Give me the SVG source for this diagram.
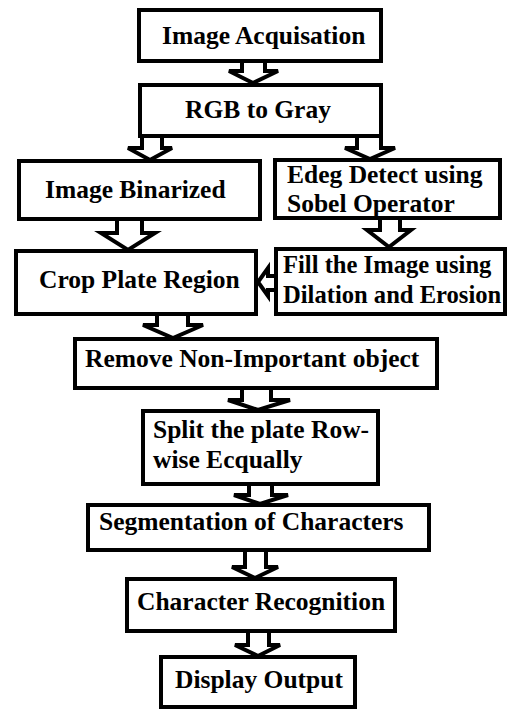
<svg xmlns="http://www.w3.org/2000/svg" width="507" height="709" viewBox="0 0 507 709">
<style>
.box{fill:#fff;stroke:#000;stroke-width:4}
.arr{fill:#fff;stroke:#000;stroke-width:4;stroke-linejoin:miter}
text{font-family:"Liberation Serif","Times New Roman","DejaVu Serif",serif;font-weight:bold;font-size:25.5px;fill:#000}
.sm{font-size:24.6px}
</style>
<rect width="507" height="709" fill="#fff"/>
<g id="connectors">
<polyline class="arr" points="242,61 242,71 229,71 253,83 278,71 265,71 265,61"/>
<polyline class="arr" points="142,136 142,148 128,148 150,160 172,148 162,148 162,136"/>
<polyline class="arr" points="357,136 357,148 345,148 370,159 395,148 381,148 381,136"/>
<polyline class="arr" points="117,219 117,233 101,233 128,250 155,233 142,233 142,219"/>
<polyline class="arr" points="380,218 380,230 367,230 389,247 411,230 400,230 400,218"/>
<polyline class="arr" points="276,276 268,276 268,268 258,282 268,296 268,290 276,290"/>
<polyline class="arr" points="157,314 157,325 143,325 173,338 203,325 188,325 188,314"/>
<polyline class="arr" points="242,388 242,400 228,400 258,410 290,400 271,400 271,388"/>
<polyline class="arr" points="249,484 249,495 234,495 260,504 288,495 272,495 272,484"/>
<polyline class="arr" points="245,550 245,567 232,567 255,578 278,567 266,567 266,550"/>
<polyline class="arr" points="248,631 248,645 235,645 258,656 280,645 269,645 269,631"/>
</g>
<g id="n1"><rect class="box" x="139" y="10" width="242" height="51"/><text x="162" y="44">Image Acquisation</text></g>
<g id="n2"><rect class="box" x="140" y="85" width="241" height="51"/><text x="185" y="118">RGB to Gray</text></g>
<g id="n3"><rect class="box" x="19" y="161" width="241" height="58"/><text x="45" y="198">Image Binarized</text></g>
<g id="n4"><rect class="box" x="275" y="160" width="225" height="58"/><text x="287" y="183">Edeg Detect using</text><text x="287" y="212">Sobel Operator</text></g>
<g id="n5"><rect class="box" x="16" y="251" width="240" height="63"/><text x="39" y="288">Crop Plate Region</text></g>
<g id="n6"><rect class="box" x="276" y="249" width="229" height="65"/><text class="sm" x="283" y="273">Fill the Image using</text><text class="sm" x="283" y="303">Dilation and Erosion</text></g>
<g id="n7"><rect class="box" x="75" y="339" width="362" height="49"/><text x="85" y="367">Remove Non-Important object</text></g>
<g id="n8"><rect class="box" x="143" y="411" width="235" height="73"/><text x="153" y="438">Split the plate Row-</text><text x="153" y="468">wise Ecqually</text></g>
<g id="n9"><rect class="box" x="88" y="505" width="341" height="45"/><text x="99" y="530">Segmentation of Characters</text></g>
<g id="n10"><rect class="box" x="127" y="579" width="268" height="52"/><text x="137" y="610">Character Recognition</text></g>
<g id="n11"><rect class="box" x="161" y="657" width="194" height="50"/><text x="175" y="688">Display Output</text></g>
</svg>
